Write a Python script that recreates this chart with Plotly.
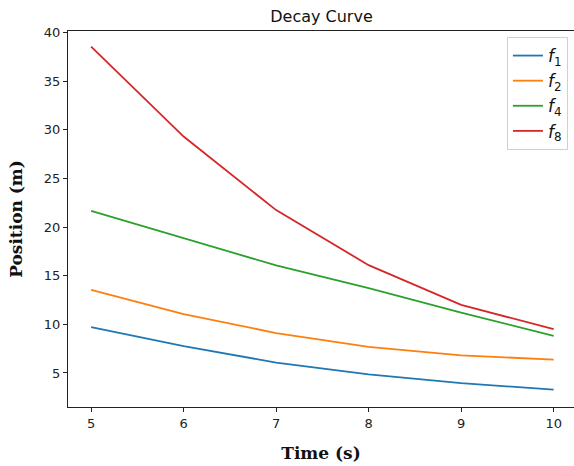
import plotly.graph_objects as go

time_s = [5, 6, 7, 8, 9, 10]
f1 = [9.70, 7.75, 6.07, 4.85, 3.95, 3.29]
f2 = [13.54, 11.05, 9.10, 7.67, 6.80, 6.38]
f4 = [21.67, 18.90, 16.05, 13.72, 11.20, 8.81]
f8 = [38.55, 29.30, 21.74, 16.08, 12.00, 9.50]

series = [
    ("<i>f</i><sub>1</sub>", f1, "#1f77b4"),
    ("<i>f</i><sub>2</sub>", f2, "#ff7f0e"),
    ("<i>f</i><sub>4</sub>", f4, "#2ca02c"),
    ("<i>f</i><sub>8</sub>", f8, "#d62728"),
]

fig = go.Figure()
for name, vals, col in series:
    fig.add_trace(go.Scatter(x=time_s, y=vals, mode="lines", name=name,
                             line=dict(color=col, width=1.8)))

axis_common = dict(showgrid=False, zeroline=False, showline=True, mirror=True,
                   linecolor="#222", linewidth=1, ticks="outside", ticklen=4,
                   tickcolor="#222", tickfont=dict(family="DejaVu Sans", size=13, color="#222"))

fig.update_layout(
    width=574, height=466,
    paper_bgcolor="white", plot_bgcolor="white",
    margin=dict(l=68, r=0, t=31, b=59),
    title=dict(text="Decay Curve", x=(268 + 375) / 2 / 574, xanchor="center", xref="container",
               y=1 - 16 / 466, yanchor="middle", yref="container",
               font=dict(family="DejaVu Sans", size=16, color="#111")),
    xaxis=dict(range=[4.75, 10.22], tickvals=[5, 6, 7, 8, 9, 10],
               title=dict(text="<b>Time (s)</b>", standoff=17,
                          font=dict(family="DejaVu Serif", size=17, color="#111")),
               **axis_common),
    yaxis=dict(range=[1.5, 40.15], tickvals=[5, 10, 15, 20, 25, 30, 35, 40],
               title=dict(text="<b>Position (m)</b>", standoff=16,
                          font=dict(family="DejaVu Serif", size=17, color="#111")),
               **axis_common),
    legend=dict(x=0.988, y=0.984, xanchor="right", yanchor="top",
                bgcolor="rgba(255,255,255,0.8)", bordercolor="#d0d0d0", borderwidth=1,
                font=dict(family="DejaVu Sans", size=17, color="#111"),
                tracegroupgap=0, itemwidth=30),
    showlegend=True,
)

fig.write_html("out.html", config={"displayModeBar": False},
               post_script="document.body.style.margin='0';document.body.style.overflow='hidden';")
